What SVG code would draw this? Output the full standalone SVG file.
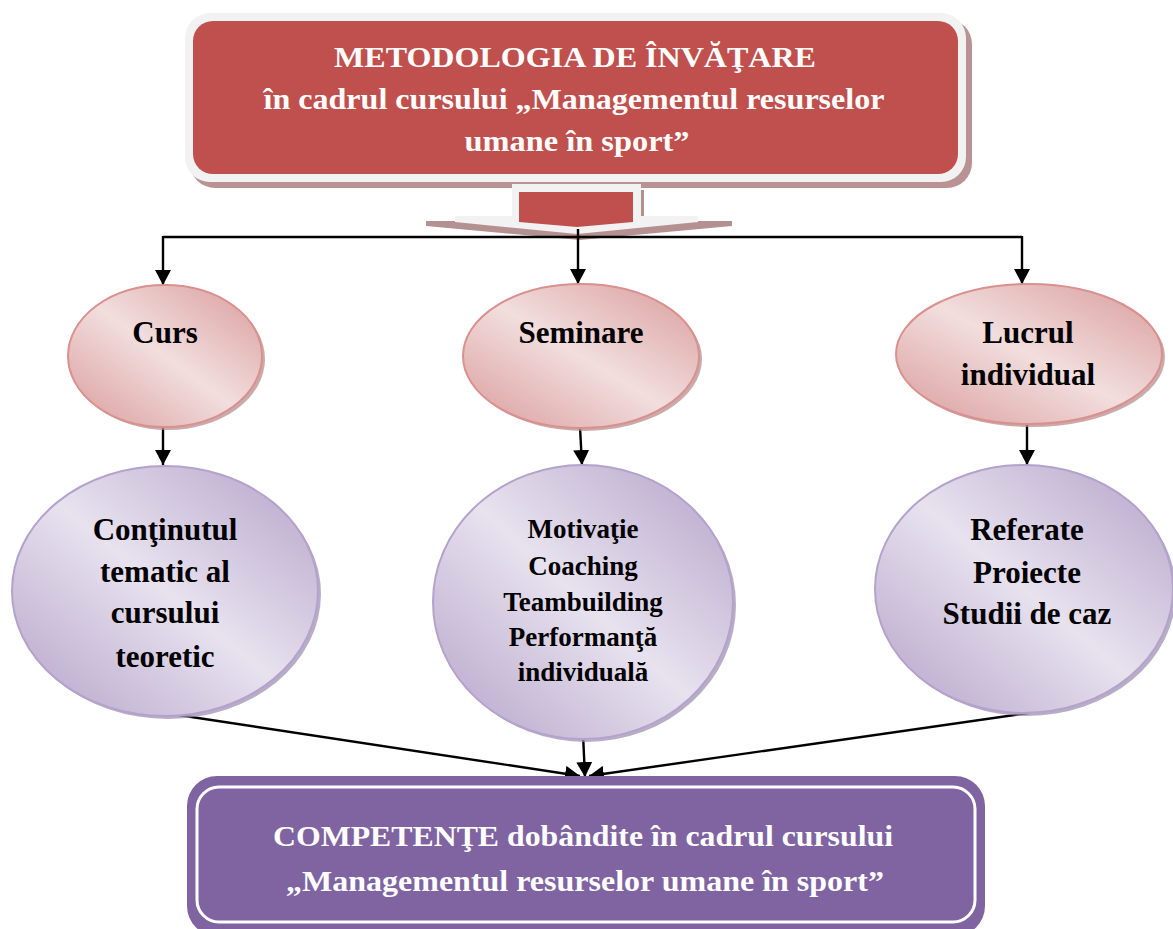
<svg xmlns="http://www.w3.org/2000/svg" width="1173" height="929" viewBox="0 0 1173 929">
<style>
text{font-family:"Liberation Serif","Times New Roman",serif;font-weight:bold;text-anchor:middle}
.w{fill:#ffffff;font-size:30px}
.k{fill:#000000;font-size:31px}
.s{fill:#000000;font-size:27px}
.pk{fill:url(#gPink);stroke:#d9908e;stroke-width:2}
.pu{fill:url(#gPurp);stroke:#b4a2cc;stroke-width:2}
.shp{fill:#b88e8e;opacity:.75}
.shu{fill:#9f92b3;opacity:.75}
.c{fill:none;stroke:#000;stroke-width:2.4}
</style>
<defs>
<linearGradient id="gPink" x1="0" y1="1" x2="1" y2="0">
<stop offset="0" stop-color="#d99b9a"/>
<stop offset="0.5" stop-color="#f2dede"/>
<stop offset="1" stop-color="#d99b9a"/>
</linearGradient>
<linearGradient id="gPurp" x1="0" y1="1" x2="1" y2="0">
<stop offset="0" stop-color="#b3a2c8"/>
<stop offset="0.5" stop-color="#e8e2ef"/>
<stop offset="1" stop-color="#b3a2c8"/>
</linearGradient>
<marker id="ah" markerUnits="userSpaceOnUse" markerWidth="16" markerHeight="16" refX="15" refY="8" orient="auto">
<path d="M0,0 L15,8 L0,16 z" fill="#000"/>
</marker>
</defs>

<g id="top">
<rect x="190" y="19" width="782" height="169" rx="25" fill="#b99393"/>
<rect x="185" y="13" width="781" height="169" rx="25" fill="#f2f2f2"/>
<rect x="193" y="21" width="765" height="153" rx="20" fill="#c0504d"/>
<polygon points="426,221 732,221 732,226 580,240 426,226" fill="#b59090"/>
<rect x="641" y="190" width="3" height="27" fill="#b59090"/>
<polygon points="512,184 641,184 641,216 698,216 698,222 577,234 455,222 455,216 512,216" fill="#f2f2f2"/>
<polygon points="519,192 633,192 633,222 577,227 519,222" fill="#c0504d"/>
<text class="w" x="575" y="67" textLength="482" lengthAdjust="spacingAndGlyphs">METODOLOGIA DE ÎNVĂŢARE</text>
<text class="w" x="574" y="109" textLength="621" lengthAdjust="spacingAndGlyphs">în cadrul cursului „Managementul resurselor</text>
<text class="w" x="577" y="151" textLength="225" lengthAdjust="spacingAndGlyphs">umane în sport”</text>
</g>

<g id="connectors">
<polyline class="c" points="163,237 1022,237"/>
<line class="c" x1="163" y1="236" x2="163" y2="285" marker-end="url(#ah)"/>
<line class="c" x1="578" y1="229" x2="578" y2="284" marker-end="url(#ah)"/>
<line class="c" x1="1022" y1="236" x2="1022" y2="284" marker-end="url(#ah)"/>
<line class="c" x1="163" y1="427" x2="163" y2="465" marker-end="url(#ah)"/>
<line class="c" x1="580" y1="427" x2="582" y2="465" marker-end="url(#ah)"/>
<line class="c" x1="1027" y1="423" x2="1027" y2="465" marker-end="url(#ah)"/>
<line class="c" x1="165" y1="713" x2="580" y2="776" marker-end="url(#ah)"/>
<line class="c" x1="583" y1="734" x2="585" y2="777" marker-end="url(#ah)"/>
<line class="c" x1="1028" y1="713" x2="589" y2="776" marker-end="url(#ah)"/>
</g>

<g id="curs">
<ellipse class="shp" cx="168" cy="359" rx="97" ry="71"/>
<ellipse class="pk" cx="165" cy="356" rx="97" ry="71"/>
<text class="k" x="165" y="343">Curs</text>
</g>
<g id="seminare">
<ellipse class="shp" cx="584" cy="359" rx="118" ry="72"/>
<ellipse class="pk" cx="581" cy="356" rx="118" ry="72"/>
<text class="k" x="581" y="343">Seminare</text>
</g>
<g id="lucrul">
<ellipse class="shp" cx="1032" cy="357" rx="133" ry="70"/>
<ellipse class="pk" cx="1029" cy="354" rx="133" ry="70"/>
<text class="k" x="1028" y="343">Lucrul</text>
<text class="k" x="1028" y="385">individual</text>
</g>

<g id="continut">
<ellipse class="shu" cx="168" cy="594" rx="153" ry="125"/>
<ellipse class="pu" cx="165" cy="591" rx="153" ry="125"/>
<text class="k" x="165" y="540">Conţinutul</text>
<text class="k" x="165" y="582">tematic al</text>
<text class="k" x="165" y="623">cursului</text>
<text class="k" x="165" y="667">teoretic</text>
</g>
<g id="seminarii">
<ellipse class="shu" cx="586" cy="605" rx="150" ry="137"/>
<ellipse class="pu" cx="583" cy="602" rx="150" ry="137"/>
<text class="s" x="583" y="538">Motivaţie</text>
<text class="s" x="583" y="575">Coaching</text>
<text class="s" x="583" y="611">Teambuilding</text>
<text class="s" x="583" y="646">Performanţă</text>
<text class="s" x="583" y="681">individuală</text>
</g>
<g id="referate">
<ellipse class="shu" cx="1027" cy="592" rx="149" ry="124"/>
<ellipse class="pu" cx="1024" cy="589" rx="149" ry="124"/>
<text class="k" x="1027" y="540">Referate</text>
<text class="k" x="1027" y="583">Proiecte</text>
<text class="k" x="1027" y="624">Studii de caz</text>
</g>

<g id="competente">
<rect x="187" y="776" width="798" height="160" rx="30" fill="#8064a2"/>
<rect x="197" y="787" width="778" height="135" rx="22" fill="none" stroke="#ffffff" stroke-width="3"/>
<text class="w" x="583" y="846" textLength="620" lengthAdjust="spacingAndGlyphs">COMPETENŢE dobândite în cadrul cursului</text>
<text class="w" x="585" y="891" textLength="598" lengthAdjust="spacingAndGlyphs">„Managementul resurselor umane în sport”</text>
</g>
</svg>
